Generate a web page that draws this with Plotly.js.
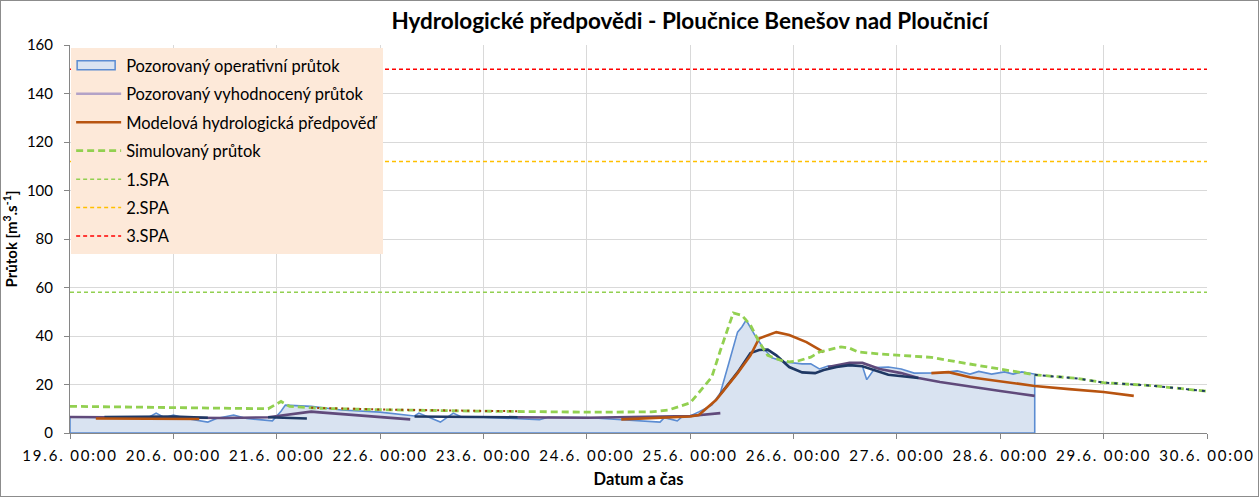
<!DOCTYPE html>
<html><head><meta charset="utf-8">
<script src="https://cdn.plot.ly/plotly-3.0.1.min.js"></script>
<style>
html,body{margin:0;padding:0;background:#fff;}
#chart{width:1259px;height:497px;box-sizing:border-box;border:1px solid #8c8c8c;}
#chart .xtick text{letter-spacing:1.8px;}
</style></head><body><div id="chart"></div>
<script>
// Tick categories
const tickDates = ['2013-06-19 00:00','2013-06-20 00:00','2013-06-21 00:00','2013-06-22 00:00','2013-06-23 00:00','2013-06-24 00:00','2013-06-25 00:00','2013-06-26 00:00','2013-06-27 00:00','2013-06-28 00:00','2013-06-29 00:00','2013-06-30 00:00'];
const tickLabels = ['19.6. 00:00','20.6. 00:00','21.6. 00:00','22.6. 00:00','23.6. 00:00','24.6. 00:00','25.6. 00:00','26.6. 00:00','27.6. 00:00','28.6. 00:00','29.6. 00:00','30.6. 00:00'];
const yTicks = [0,20,40,60,80,100,120,140,160];

// Pozorovaný operativní průtok (area outline, starts and ends at 0)
const obsTime = ['2013-06-19 00:00','2013-06-19 00:00','2013-06-19 12:00','2013-06-19 18:00','2013-06-19 20:00','2013-06-19 22:00','2013-06-20 00:00','2013-06-20 03:00','2013-06-20 08:00','2013-06-20 10:00','2013-06-20 14:00','2013-06-20 17:00','2013-06-20 23:00','2013-06-21 01:00','2013-06-21 02:00','2013-06-21 08:00','2013-06-21 15:00','2013-06-22 00:00','2013-06-22 08:00','2013-06-22 09:00','2013-06-22 14:00','2013-06-22 17:00','2013-06-22 19:00','2013-06-23 00:00','2013-06-23 13:00','2013-06-23 15:00','2013-06-24 00:00','2013-06-24 17:00','2013-06-24 18:00','2013-06-24 21:00','2013-06-24 22:00','2013-06-25 00:00','2013-06-25 02:00','2013-06-25 05:00','2013-06-25 06:00','2013-06-25 07:00','2013-06-25 09:00','2013-06-25 11:00','2013-06-25 12:00','2013-06-25 13:00','2013-06-25 15:00','2013-06-25 17:00','2013-06-25 19:00','2013-06-25 22:00','2013-06-26 02:00','2013-06-26 04:00','2013-06-26 06:00','2013-06-26 08:00','2013-06-26 13:00','2013-06-26 16:00','2013-06-26 17:00','2013-06-26 19:00','2013-06-26 22:00','2013-06-27 01:00','2013-06-27 04:00','2013-06-27 07:00','2013-06-27 10:00','2013-06-27 14:00','2013-06-27 17:00','2013-06-27 19:00','2013-06-27 22:00','2013-06-28 01:00','2013-06-28 03:00','2013-06-28 05:00','2013-06-28 08:00','2013-06-28 08:00','2013-06-19 00:00'];
const obsFlow = [0,6.6,6.3,6.2,8.2,6.3,7.4,6.0,4.5,6.0,7.4,6.0,5.0,9.0,11.5,11.0,9.5,8.6,7.0,8.2,4.5,8.2,6.5,6.5,5.5,6.5,6.4,4.5,6.3,5.0,6.5,7.0,8.7,11.5,14,16.5,29,41.6,43.7,46.6,40.4,35,31,29.3,28.5,28.5,26.4,27.6,28,27.5,22,27,27.2,26.4,24.7,24.7,24.8,25.6,24.3,25.4,24.3,25.2,24.3,25.2,24.3,0,0];

// Simulovaný průtok
const simTime = ['2013-06-19 00:00','2013-06-20 00:00','2013-06-20 22:00','2013-06-21 01:00','2013-06-21 03:00','2013-06-21 10:00','2013-06-22 00:00','2013-06-23 00:00','2013-06-24 00:00','2013-06-24 15:00','2013-06-24 19:00','2013-06-25 00:00','2013-06-25 02:00','2013-06-25 05:00','2013-06-25 07:00','2013-06-25 09:00','2013-06-25 10:00','2013-06-25 12:00','2013-06-25 14:00','2013-06-25 16:00','2013-06-25 18:00','2013-06-25 21:00','2013-06-25 23:00','2013-06-26 01:00','2013-06-26 04:00','2013-06-26 06:00','2013-06-26 11:00','2013-06-26 13:00','2013-06-26 15:00','2013-06-26 20:00','2013-06-27 01:00','2013-06-27 08:00','2013-06-27 15:00','2013-06-27 23:00','2013-06-28 08:00','2013-06-28 18:00','2013-06-29 00:00','2013-06-29 12:00','2013-06-30 00:00'];
const simFlow = [11,10.5,10,13,11,10.2,9.6,9.0,8.6,8.7,9.5,12.4,16.5,23,34,44.5,49.5,48.5,44.5,37.5,32,30,29.3,29.7,31.3,33.4,35.5,35,33.4,32.6,32,31.2,29,26.6,24,22.5,20.8,19.4,17.2];

// Modelová hydrologická předpověď (several runs, null = gap)
const modelTime = ['2013-06-19 06:00','2013-06-20 06:00','2013-06-20 12:00','2013-06-24 08:00','2013-06-24 15:00','2013-06-25 00:00','2013-06-25 02:00','2013-06-25 06:00','2013-06-25 11:00','2013-06-25 14:00','2013-06-25 16:00','2013-06-25 20:00','2013-06-25 23:00','2013-06-26 03:00','2013-06-26 07:00','2013-06-26 12:00','2013-06-27 08:00','2013-06-27 12:00','2013-06-27 17:00','2013-06-27 22:00','2013-06-28 02:00','2013-06-28 08:00','2013-06-28 16:00','2013-06-29 00:00','2013-06-29 07:00'];
const modelFlow = [6.0,5.8,null,5.6,6.0,6.8,7.4,13.6,24.7,32,39,41.6,40.4,37.5,33.4,null,24.7,25.1,23,21.8,20.6,19.4,18.1,16.9,15.3];

// Older forecast runs (dark blue)
const runATime = ['2013-06-19 08:00','2013-06-20 00:00','2013-06-20 08:00','2013-06-20 15:00','2013-06-20 22:00','2013-06-21 07:00','2013-06-22 00:00','2013-06-22 08:00','2013-06-23 08:00','2013-06-24 00:00','2013-06-25 07:00','2013-06-25 11:00','2013-06-25 14:00','2013-06-25 16:00','2013-06-25 18:00','2013-06-25 20:00','2013-06-25 23:00','2013-06-26 02:00','2013-06-26 05:00','2013-06-26 07:00','2013-06-26 10:00','2013-06-26 13:00','2013-06-26 16:00','2013-06-26 22:00','2013-06-27 05:00'];
const runAFlow = [6.6,6.8,6.3,null,6.5,6.0,null,6.8,6.5,null,16,25,33,34.2,34.4,32,27.2,25,24.7,26,27.2,28,27.5,24,22.7];

// Older forecast runs (dark purple)
const runBTime = ['2013-06-19 00:00','2013-06-19 12:00','2013-06-20 00:00','2013-06-20 12:00','2013-06-20 22:00','2013-06-21 08:00','2013-06-21 10:00','2013-06-22 00:00','2013-06-22 07:00','2013-06-23 00:00','2013-06-23 08:00','2013-06-24 00:00','2013-06-25 00:00','2013-06-25 07:00','2013-06-26 00:00','2013-06-26 08:00','2013-06-26 13:00','2013-06-26 16:00','2013-06-26 20:00','2013-06-27 01:00','2013-06-27 05:00','2013-06-27 10:00','2013-06-27 17:00','2013-06-28 00:00','2013-06-28 08:00'];
const runBFlow = [6.6,6.4,6.2,6.2,6.5,8.8,8.5,6.5,5.6,null,6.5,6.3,7.0,8.2,null,27.2,28.9,28.9,26.4,24.7,22.7,21,19,17.3,15.3];

// Dotted simulation runs drawn over the simulated line
const dotBrownTime = ['2013-06-21 08:00','2013-06-22 00:00','2013-06-23 00:00','2013-06-23 08:00'];
const dotBrownFlow = [10.4,9.7,9.1,9.0];
const dotNavyTime = ['2013-06-28 08:00','2013-06-28 18:00','2013-06-29 00:00','2013-06-29 12:00','2013-06-30 00:00'];
const dotNavyFlow = [24,22.5,20.8,19.4,17.2];

// Flood activity levels (SPA)
const spaNames = ['1.SPA','2.SPA','3.SPA'];
const spaLevels = [58,112,150];
const spaColors = ['#92d050','#ffc000','#ff0000'];

const xStart = tickDates[0], xEnd = tickDates[tickDates.length-1];
const F = 'Lato, "Open Sans", sans-serif';
const obsLine = '#5b8cd2', obsFill = '#d9e3f1';

const traces = [];
traces.push({x: obsTime, y: obsFlow, type:'scatter', mode:'lines', fill:'toself', fillcolor:obsFill,
  line:{color:obsLine, width:1.6}, name:'Pozorovaný operativní průtok', legendrank:1, legendgroup:'g1'});
spaNames.forEach((n,i)=>{
  traces.push({x:[xStart,xEnd], y:[spaLevels[i],spaLevels[i]], type:'scatter', mode:'lines',
    line:{color:spaColors[i], width:1.5, dash:'4px,3px'}, name:n, legendrank:5+i, legendgroup:'s'+i});
});
traces.push({x: runBTime, y: runBFlow, type:'scatter', mode:'lines', connectgaps:false,
  line:{color:'#604a7b', width:2.6}, showlegend:false, hoverinfo:'skip'});
traces.push({x: runATime, y: runAFlow, type:'scatter', mode:'lines', connectgaps:false,
  line:{color:'#1f3864', width:2.6}, showlegend:false, hoverinfo:'skip'});
traces.push({x: modelTime, y: modelFlow, type:'scatter', mode:'lines', connectgaps:false,
  line:{color:'#b85410', width:2.6}, name:'Modelová hydrologická předpověď', legendrank:3, legendgroup:'g3'});
traces.push({x: [xStart], y: [null], type:'scatter', mode:'lines',
  line:{color:'#b3a2c7', width:2.6}, name:'Pozorovaný vyhodnocený průtok', legendrank:2, legendgroup:'g2'});
traces.push({x: simTime, y: simFlow, type:'scatter', mode:'lines',
  line:{color:'#92d050', width:2.8, dash:'7px,4px'}, name:'Simulovaný průtok', legendrank:4, legendgroup:'g4'});
traces.push({x: dotBrownTime, y: dotBrownFlow, type:'scatter', mode:'lines',
  line:{color:'#a0400a', width:2, dash:'2px,4px'}, showlegend:false, hoverinfo:'skip'});
traces.push({x: dotNavyTime, y: dotNavyFlow, type:'scatter', mode:'lines',
  line:{color:'#1f3864', width:2, dash:'3px,5px'}, showlegend:false, hoverinfo:'skip'});

const layout = {
  width:1257, height:495,
  margin:{l:69, r:51, t:44, b:63},
  paper_bgcolor:'#ffffff', plot_bgcolor:'#ffffff',
  font:{family:F, size:14, color:'#000'},
  title:{text:'<b>Hydrologické předpovědi - Ploučnice Benešov nad Ploučnicí</b>', x:0.548, xanchor:'center', y:0.96, yanchor:'middle', font:{family:F, size:22.5, color:'#000'}},
  xaxis:{type:'date', range:[xStart,xEnd], tickvals:tickDates, ticktext:tickLabels,
    showgrid:true, gridcolor:'#d9d9d9', gridwidth:1, showline:true, linecolor:'#868686', linewidth:1,
    ticks:'outside', ticklen:5, tickcolor:'#868686', tickfont:{family:F, size:15}, ticklabelstandoff:4,
    title:{text:'<b>Datum a čas</b>', font:{family:F, size:16.5}, standoff:10}, zeroline:false},
  yaxis:{range:[0,160], tickvals:yTicks, showgrid:true, gridcolor:'#d9d9d9', gridwidth:1,
    showline:true, linecolor:'#868686', linewidth:1, ticks:'outside', ticklen:5, tickcolor:'#868686',
    tickfont:{family:F, size:15}, ticklabelstandoff:8, zeroline:false,
    title:{text:'<b>Průtok [m<sup>3</sup>.s<sup>-1</sup>]</b>', font:{family:F, size:15}, standoff:8}},
  legend:{x:0.001, y:0.992, xanchor:'left', yanchor:'top', bgcolor:'#fde9d9', borderwidth:0,
    font:{family:F, size:16.5}, traceorder:'grouped', tracegroupgap:4, itemwidth:45},
  showlegend:true
};
Plotly.newPlot('chart', traces, layout, {displayModeBar:false, staticPlot:true}).then(gd => {
  // Area-style legend swatch (box with outline) for the observed-flow area
  const items = gd.querySelectorAll('.legend .traces');
  items.forEach(it => {
    const t = it.querySelector('.legendtext');
    if (t && t.textContent === 'Pozorovaný operativní průtok') {
      const f = it.querySelector('.legendfill path');
      if (f) {
        f.setAttribute('d', 'M6,-4.5h38v9h-38z');
        f.style.fill = obsFill; f.style.stroke = obsLine; f.style.strokeWidth = '1.5px';
      }
      const l = it.querySelector('.legendlines path');
      if (l) l.style.display = 'none';
    }
  });
});
</script></body></html>
